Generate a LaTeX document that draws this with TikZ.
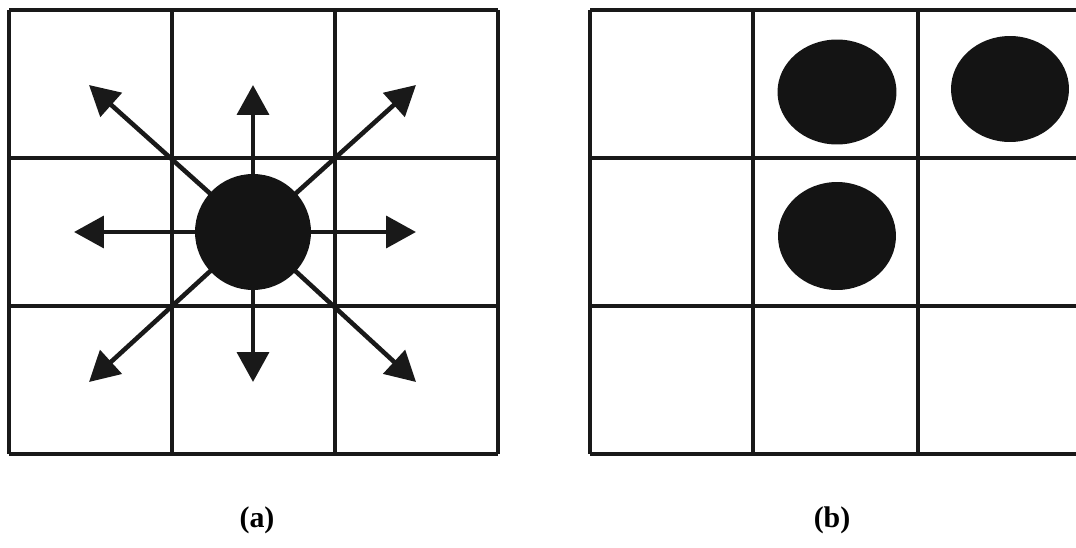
\documentclass[tikz,border=0pt]{standalone}
\usepackage{fontspec}
\setmainfont{Liberation Serif}
\usetikzlibrary{arrows.meta, shapes.geometric}

\begin{document}
\begin{tikzpicture}[
  x=0.02cm, y=-0.02cm,
  gridline/.style={line width=1.9pt, black!90},
  dot/.style={draw=none, fill=black!92, inner sep=0pt},
  move/.style={line width=2.6pt, black!90, -{Triangle[length=17pt, width=18pt]}},
  caption/.style={font=\fontsize{17}{19}\selectfont\bfseries}
]
\useasboundingbox (0,0) rectangle (1076,548);
\clip (0,0) rectangle (1076,548);

% grid (a)
\foreach \x in {9,172,335,498} \draw[gridline] (\x,10) -- (\x,454);
\foreach \y in {10,158,306,454} \draw[gridline] (9,\y) -- (498,\y);

% grid (b), runs off the right edge
\foreach \x in {590,753,918} \draw[gridline] (\x,10) -- (\x,454);
\draw[gridline] (918,10) -- (918,454);
\foreach \y in {10,158,306,454} \draw[gridline] (590,\y) -- (1090,\y);

% moves from the centre cell
\coordinate (tipN)  at (253,85);
\coordinate (tipS)  at (253,382);
\coordinate (tipW)  at (74,232);
\coordinate (tipE)  at (416,232);
\coordinate (tipNW) at (89,85);
\coordinate (tipNE) at (416,85);
\coordinate (tipSW) at (89,382);
\coordinate (tipSE) at (416,382);
\coordinate (centre) at (253,232);

\foreach \t in {N,S,W,E,NW,NE,SW,SE}
  \draw[move] (centre) -- (tip\t);

\node[dot, circle, minimum size=2.32cm] (agent) at (centre) {};

% occupied cells
\node[dot, ellipse, minimum width=2.38cm, minimum height=2.1cm] (occA) at (837,92) {};
\node[dot, ellipse, minimum width=2.36cm, minimum height=2.12cm] (occB) at (1010,89) {};
\node[dot, ellipse, minimum width=2.36cm, minimum height=2.16cm] (occC) at (837,236) {};

\node[caption] (capA) at (257,520) {(a)};
\node[caption] (capB) at (832,520) {(b)};
\end{tikzpicture}
\end{document}
